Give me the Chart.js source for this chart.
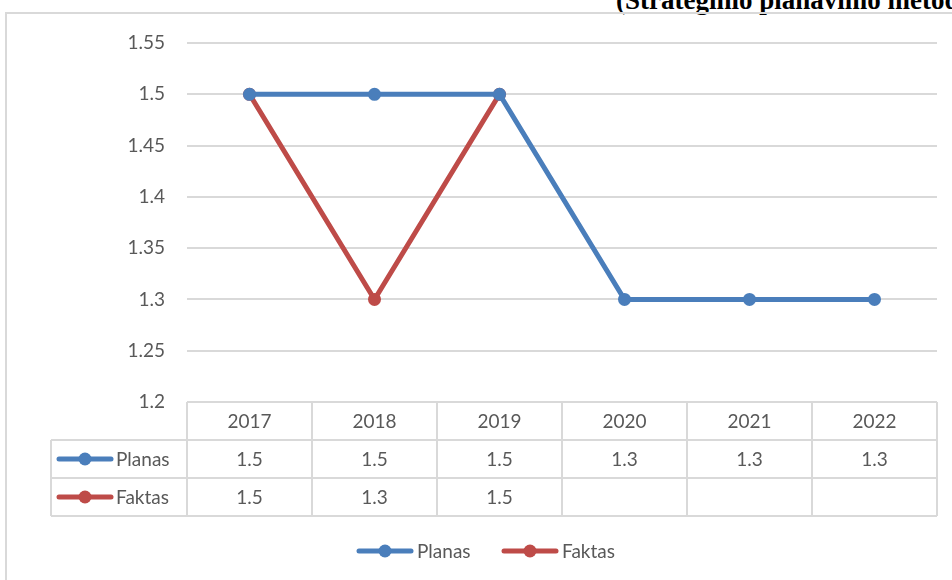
<!DOCTYPE html>
<html>
<head>
<meta charset="utf-8">
<script src="https://cdn.jsdelivr.net/npm/chart.js@4/dist/chart.umd.min.js"></script>
<style>
  html, body { margin: 0; padding: 0; background: #fff; }
  body { width: 952px; height: 580px; position: relative; overflow: hidden; }
  #title {
    position: absolute; left: 616px; top: -15px; white-space: nowrap; line-height: 1;
    font: bold 27px "Liberation Serif", "Times New Roman", serif; color: #000;
  }
  #frame {
    position: absolute; left: 5px; top: 12px; width: 1000px; height: 600px;
    border-left: 2px solid #d9d9d9; border-top: 2px solid #d9d9d9;
  }
  #wrap { position: absolute; left: 0; top: 0; width: 952px; height: 580px; }
</style>
</head>
<body>
<div id="title">(Strateginio planavimo metodika)</div>
<div id="frame"></div>
<div id="wrap"><canvas id="chart"></canvas></div>
<script>
const years = ['2017', '2018', '2019', '2020', '2021', '2022'];
const planas = [1.5, 1.5, 1.5, 1.3, 1.3, 1.3];
const faktas = [1.5, 1.3, 1.5, null, null, null];
const seriesNames = ['Planas', 'Faktas'];
const seriesColors = ['#4a7ebb', '#be4b48'];

const textColor = '#595959';
const gridColor = '#d9d9d9';
const fontFamily = 'Lato, "Open Sans", sans-serif';
const fontSize = 19;

function drawLegendMarker(ctx, cx, cy, color) {
  ctx.save();
  ctx.strokeStyle = color;
  ctx.lineWidth = 5;
  ctx.lineCap = 'round';
  ctx.beginPath();
  ctx.moveTo(cx - 26, cy);
  ctx.lineTo(cx + 26, cy);
  ctx.stroke();
  ctx.fillStyle = color;
  ctx.beginPath();
  ctx.arc(cx, cy, 6.5, 0, Math.PI * 2);
  ctx.fill();
  ctx.restore();
}

function formatCell(v) {
  return v === null || v === undefined ? '' : String(v);
}

// data table under the plot + bottom legend
const dataTablePlugin = {
  id: 'dataTable',
  afterDraw(chart) {
    const ctx = chart.ctx;
    const xScale = chart.scales.x;
    const area = chart.chartArea;
    const step = xScale.getPixelForValue(1) - xScale.getPixelForValue(0);
    const rowH = 38;
    const top = area.bottom;
    const labelLeft = 51;
    const left = xScale.getPixelForValue(0) - step / 2;
    const right = xScale.getPixelForValue(years.length - 1) + step / 2;
    const rows = [planas, faktas];

    ctx.save();
    ctx.strokeStyle = gridColor;
    ctx.lineWidth = 2;
    ctx.beginPath();
    // horizontal lines
    for (let r = 1; r <= rows.length + 1; r++) {
      const y = top + r * rowH;
      ctx.moveTo(labelLeft, y);
      ctx.lineTo(right, y);
    }
    // vertical lines
    for (let i = 0; i <= years.length; i++) {
      const x = left + i * step;
      ctx.moveTo(x, top);
      ctx.lineTo(x, top + (rows.length + 1) * rowH);
    }
    ctx.moveTo(labelLeft, top + rowH);
    ctx.lineTo(labelLeft, top + (rows.length + 1) * rowH);
    ctx.stroke();

    ctx.fillStyle = textColor;
    ctx.font = fontSize + 'px ' + fontFamily;
    ctx.textAlign = 'center';
    ctx.textBaseline = 'middle';
    years.forEach((yr, i) => {
      ctx.fillText(yr, xScale.getPixelForValue(i), top + rowH / 2 + 1);
    });
    rows.forEach((vals, r) => {
      const cy = top + rowH * (r + 1) + rowH / 2 + 1;
      vals.forEach((v, i) => {
        ctx.fillText(formatCell(v), xScale.getPixelForValue(i), cy);
      });
      drawLegendMarker(ctx, 85, cy - 1, seriesColors[r]);
      ctx.textAlign = 'left';
      ctx.fillText(seriesNames[r], 116, cy);
      ctx.textAlign = 'center';
    });

    // bottom legend
    const legendY = 551;
    const legendX = [385, 530];
    seriesNames.forEach((name, r) => {
      drawLegendMarker(ctx, legendX[r], legendY, seriesColors[r]);
      ctx.textAlign = 'left';
      ctx.fillText(name, legendX[r] + 32, legendY + 1);
    });
    ctx.restore();
  }
};

new Chart(document.getElementById('chart'), {
  type: 'line',
  data: {
    labels: years,
    datasets: [
      {
        label: seriesNames[0],
        data: planas,
        borderColor: seriesColors[0],
        backgroundColor: seriesColors[0],
        borderWidth: 5,
        pointRadius: 6.5,
        pointBorderWidth: 0,
        tension: 0,
      },
      {
        label: seriesNames[1],
        data: faktas,
        borderColor: seriesColors[1],
        backgroundColor: seriesColors[1],
        borderWidth: 5,
        pointRadius: 6.5,
        pointBorderWidth: 0,
        tension: 0,
      },
    ],
  },
  options: {
    responsive: true,
    maintainAspectRatio: false,
    animation: false,
    layout: { padding: { top: 43, right: 15, bottom: 178, left: 0 } },
    plugins: {
      legend: { display: false },
      tooltip: { enabled: false },
    },
    scales: {
      x: {
        display: false,
        offset: true,
      },
      y: {
        min: 1.2,
        max: 1.55,
        afterFit: (scale) => { scale.width = 187; },
        border: { display: false },
        grid: { color: gridColor, lineWidth: 2, drawTicks: false },
        ticks: {
          stepSize: 0.05,
          padding: 22,
          color: textColor,
          font: { family: fontFamily, size: fontSize },
          callback: (v) => String(Math.round(v * 100) / 100),
        },
      },
    },
  },
  plugins: [dataTablePlugin],
});
</script>
</body>
</html>
